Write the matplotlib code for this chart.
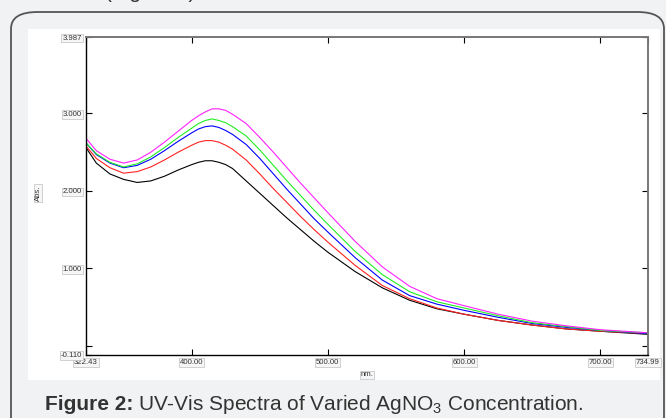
import numpy as np
import matplotlib.pyplot as plt
from matplotlib.patches import FancyBboxPatch, Rectangle

plt.rcParams['font.family'] = ['Liberation Sans', 'DejaVu Sans']
plt.rcParams['mathtext.fontset'] = 'custom'
plt.rcParams['mathtext.rm'] = 'Liberation Sans'
plt.rcParams['mathtext.bf'] = 'Liberation Sans:bold'

# wavelength (nm) and absorbance
wl = [322.43, 330, 340, 350, 360, 370, 380, 390, 400, 405, 410, 415, 420, 425, 430, 440, 450,
      460, 470, 480, 490, 500, 520, 540, 560, 580, 600, 625, 650, 675, 700, 734.99]
black = [2.56, 2.36, 2.22, 2.15, 2.11, 2.13, 2.19, 2.27, 2.34, 2.37, 2.39, 2.39, 2.37, 2.34, 2.29, 2.13, 1.97,
         1.81, 1.65, 1.50, 1.35, 1.21, 0.96, 0.75, 0.59, 0.48, 0.41, 0.33, 0.27, 0.22, 0.19, 0.15]
red = [2.58, 2.42, 2.30, 2.23, 2.25, 2.31, 2.40, 2.50, 2.59, 2.63, 2.65, 2.65, 2.63, 2.59, 2.54, 2.40, 2.22,
       2.03, 1.85, 1.67, 1.50, 1.34, 1.04, 0.78, 0.61, 0.49, 0.41, 0.33, 0.27, 0.22, 0.19, 0.16]
blue = [2.62, 2.47, 2.36, 2.30, 2.33, 2.41, 2.52, 2.64, 2.75, 2.80, 2.83, 2.84, 2.82, 2.78, 2.73, 2.60, 2.42,
        2.22, 2.02, 1.83, 1.64, 1.47, 1.14, 0.85, 0.65, 0.54, 0.46, 0.37, 0.29, 0.24, 0.20, 0.16]
green = [2.62, 2.48, 2.37, 2.31, 2.35, 2.44, 2.56, 2.69, 2.81, 2.87, 2.91, 2.93, 2.91, 2.88, 2.83, 2.71, 2.53,
         2.33, 2.13, 1.94, 1.75, 1.57, 1.22, 0.92, 0.70, 0.57, 0.49, 0.39, 0.30, 0.25, 0.20, 0.17]
magenta = [2.68, 2.52, 2.41, 2.36, 2.40, 2.50, 2.63, 2.77, 2.91, 2.97, 3.02, 3.06, 3.06, 3.04, 2.99, 2.87, 2.69,
           2.50, 2.30, 2.10, 1.91, 1.72, 1.35, 1.02, 0.77, 0.61, 0.52, 0.41, 0.32, 0.26, 0.21, 0.17]

xticks = [322.43, 400, 500, 600, 700, 734.99]
xlabels = ['322.43', '400.00', '500.00', '600.00', '700.00', '734.99']
yticks = [-0.110, 0, 1, 2, 3, 3.987]
ylabels = ['-0.110', '', '1.000', '2.000', '3.000', '3.987']

W, H = 666, 418
fig = plt.figure(figsize=(W / 100, H / 100), dpi=100)
fig.patch.set_facecolor('#f1f2f3')

# rounded frame and white panel
fig.patches.append(FancyBboxPatch((11 / W, -0.2), 653 / W, 1.2 - 12 / H,
                                  boxstyle='round,pad=0,rounding_size=0.04',
                                  transform=fig.transFigure, fc='#f1f2f3',
                                  ec='#555555', lw=1.3, zorder=0))
fig.patches.append(Rectangle((28 / W, 1 - 380 / H), 632 / W, 351 / H,
                             transform=fig.transFigure, fc='white', ec='none', zorder=1))

ax = fig.add_axes([86 / W, 1 - 354.5 / H, 562 / W, 317.5 / H])
ax.set_zorder(2)
for y, c in [(black, 'black'), (red, '#ff2222'), (blue, '#0000ff'),
             (green, '#22ee22'), (magenta, '#ff22ff')]:
    ax.plot(wl, y, color=c, lw=0.8)

ax.set_xlim(322.43, 734.99)
ax.set_ylim(-0.110, 3.987)
ax.set_xticks(xticks)
ax.set_xticklabels(xlabels)
ax.set_yticks(yticks)
ax.set_yticklabels(ylabels)
ax.tick_params(direction='in', length=4, width=0.8, labelsize=5.6, top=True, right=True,
               pad=3, colors='black', labelcolor='#333333')
for s in ['top', 'right']:
    ax.spines[s].set_color('#777777')
    ax.spines[s].set_linewidth(1.4)
for s in ['left', 'bottom']:
    ax.spines[s].set_color('black')
    ax.spines[s].set_linewidth(1.0)
for lab in ax.get_xticklabels() + ax.get_yticklabels():
    if lab.get_text():
        lab.set_bbox(dict(fc='#f6f6f6', ec='#c0c0c0', lw=0.5, pad=0.6))

fig.text(38 / W, 1 - 193 / H, 'Abs.', rotation=90, fontsize=5.6, ha='center', va='center',
         color='#333333', bbox=dict(fc='#f6f6f6', ec='#c0c0c0', lw=0.5, pad=0.6))
fig.text(367 / W, 1 - 375 / H, 'nm.', fontsize=5.6, ha='center', va='center',
         color='#333333', bbox=dict(fc='#f6f6f6', ec='#c0c0c0', lw=0.5, pad=0.6))

# caption: bold part then the rest right after it
cap1 = fig.text(45 / W, 1 - 404 / H, 'Figure 2:', fontsize=15, fontweight='bold',
                ha='left', va='center', color='#333333')
fig.canvas.draw()
bb = cap1.get_window_extent()
fig.text((bb.x1 + 5) / W, 1 - 404 / H,
         r'UV-Vis Spectra of Varied AgNO$_3$ Concentration.',
         fontsize=15, ha='left', va='center', color='#333333')
fig.text(105 / W, 1 + 2 / H, '(Figure 2)', fontsize=15, ha='left', va='baseline',
         color='#333333')

plt.savefig('out.png', dpi=100, facecolor=fig.get_facecolor())
